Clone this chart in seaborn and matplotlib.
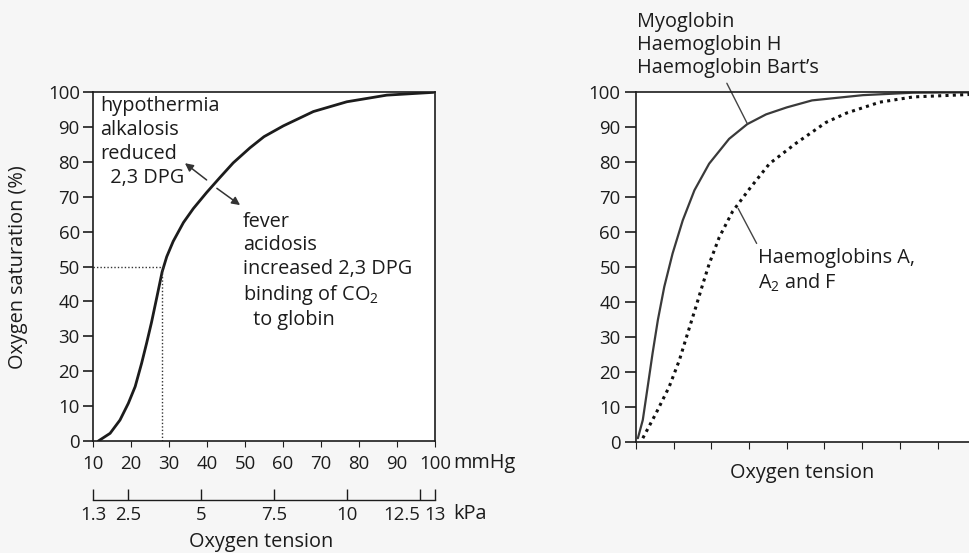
import matplotlib
matplotlib.use("Agg")
import matplotlib.pyplot as plt
import seaborn as sns

sns.set_theme(style="ticks")
plt.rcParams['font.family'] = ['Open Sans', 'DejaVu Sans']
plt.rcParams['mathtext.fontset'] = 'custom'
plt.rcParams['mathtext.rm'] = 'Open Sans'
plt.rcParams['mathtext.default'] = 'regular'

# left panel: dissociation curve (mmHg, % saturation)
curve_mmhg = [11.4, 14.5, 17.1, 19.3, 21.1, 22.8, 24.1, 25.4, 26.8, 28.2, 29.4,
              31.1, 33.8, 36.4, 39.9, 43.4, 46.9, 51.3, 55.0, 60.1, 68.0, 76.8, 87.3, 99.6]
curve_sat = [0.0, 2.2, 6.0, 10.8, 15.6, 22.3, 28.0, 34.0, 41.2, 48.5, 52.8,
             57.2, 62.6, 66.6, 71.2, 75.5, 79.7, 84.0, 87.2, 90.3, 94.4, 97.2, 99.1, 99.9]
p50_mmhg = 28.2
p50_sat = 50

mmhg_ticks = [10, 20, 30, 40, 50, 60, 70, 80, 90, 100]
kpa_ticks = [1.3, 2.5, 5, 7.5, 10, 12.5, 13]
kpa_labels = ["1.3", "2.5", "5", "7.5", "10", "12.5", "13"]
sat_ticks = [0, 10, 20, 30, 40, 50, 60, 70, 80, 90, 100]

# right panel: unscaled tension axis
myo_x = [0.05, 0.18, 0.31, 0.44, 0.58, 0.75, 0.97, 1.24, 1.55, 1.94, 2.47,
         2.95, 3.45, 4.0, 4.67, 6.02, 7.35, 8.86]
myo_y = [1.0, 6.2, 15.7, 25.3, 34.8, 44.3, 53.8, 63.3, 71.9, 79.5, 86.6,
         90.8, 93.6, 95.6, 97.6, 99.1, 99.8, 99.9]
hba_x = [0.18, 0.53, 0.88, 1.15, 1.37, 1.59, 1.77, 1.94, 2.21, 2.56, 3.01,
         3.54, 4.24, 5.04, 5.59, 6.47, 7.36, 8.24, 8.86]
hba_y = [1.0, 8.1, 15.7, 23.3, 31.0, 38.6, 45.0, 50.8, 58.5, 65.8, 72.3,
         79.5, 85.3, 91.3, 94.0, 97.1, 98.6, 99.0, 99.3]
tension_ticks = [0, 1, 2, 3, 4, 5, 6, 7, 8]

W, H = 970, 553
fs = 14.3
fs_tick = 13.4
ink = '#1c1c1c'

fig = plt.figure(figsize=(W / 100, H / 100), dpi=100)
fig.set_facecolor('#f6f6f6')


def px_axes(left, top, right, bottom):
    return fig.add_axes([left / W, (H - bottom) / H, (right - left) / W, (bottom - top) / H])


# ---- left panel ----
ax1 = px_axes(93, 92, 435, 441)
ax1.set_facecolor('white')
sns.lineplot(x=curve_mmhg, y=curve_sat, ax=ax1, color=ink, linewidth=2.0,
             estimator=None, sort=False)
ax1.plot([10, p50_mmhg + 0.4], [p50_sat, p50_sat], color='#333', lw=1, ls=(0, (1, 1.5)))
ax1.plot([p50_mmhg, p50_mmhg], [0, p50_sat], color='#333', lw=1, ls=(0, (1, 1.5)))
ax1.set_xlim(10, 100)
ax1.set_ylim(0, 100)
ax1.set_xticks(mmhg_ticks)
ax1.set_yticks(sat_ticks)
ax1.tick_params(axis='y', direction='out', length=7.5, width=1.2, pad=2, labelsize=fs_tick, colors=ink)
ax1.tick_params(axis='x', direction='out', length=4, width=0.8, pad=6, labelsize=fs_tick, colors=ink)
for s in ax1.spines.values():
    s.set_color(ink)
    s.set_linewidth(1.2)

sec = ax1.secondary_xaxis(-0.17, functions=(lambda m: m * 13 / 100, lambda k: k * 100 / 13))
sec.set_xticks(kpa_ticks)
sec.set_xticklabels(kpa_labels)
sec.tick_params(direction='in', length=8, width=1, pad=4, labelsize=fs_tick, colors=ink)
sec.spines['bottom'].set_color(ink)
sec.spines['bottom'].set_linewidth(1)
sec.get_xticklabels()[5].set_horizontalalignment('right')

ax1.text(1.053, -0.063, "mmHg", transform=ax1.transAxes, ha='left', va='center', fontsize=fs, color=ink)
ax1.text(1.053, -0.209, "kPa", transform=ax1.transAxes, ha='left', va='center', fontsize=fs, color=ink)
fig.text(261 / W, (H - 542) / H, "Oxygen tension", ha='center', va='center', fontsize=fs, color=ink)
fig.text(18 / W, (H - 267) / H, "Oxygen saturation (%)", rotation=90, ha='center', va='center',
         fontsize=fs, color=ink)

fig.text(100 / W, (H - 142) / H, "hypothermia\nalkalosis\nreduced\n  2,3 DPG", ha='left', va='center',
         fontsize=fs, color=ink, linespacing=1.27)
fig.text(243 / W, (H - 271) / H, "fever\nacidosis\nincreased 2,3 DPG\nbinding of CO$_2$\n  to globin",
         ha='left', va='center', fontsize=fs, color=ink, linespacing=1.24)
arrow = dict(arrowstyle='-|>', color='#333', lw=1.1, mutation_scale=12, shrinkA=0, shrinkB=0)
ax1.annotate('', xy=(34.2, 79.6), xytext=(39.9, 74.8), arrowprops=arrow)
ax1.annotate('', xy=(48.7, 67.6), xytext=(42.6, 72.4), arrowprops=arrow)

# ---- right panel ----
ax2 = px_axes(636, 92, 970, 441.7)
ax2.set_facecolor('white')
sns.lineplot(x=myo_x, y=myo_y, ax=ax2, color='#3a3a3a', linewidth=1.6, estimator=None, sort=False)
sns.lineplot(x=hba_x, y=hba_y, ax=ax2, color='#111', linewidth=2.2, linestyle=(0, (1, 1.4)),
             estimator=None, sort=False)
ax2.set_xlim(0, 8.86)
ax2.set_ylim(0, 100)
ax2.set_xticks(tension_ticks)
ax2.set_xticklabels([])
ax2.set_yticks(sat_ticks)
ax2.tick_params(axis='y', direction='out', length=8, width=1.2, pad=3, labelsize=fs_tick, colors=ink)
ax2.tick_params(axis='x', direction='out', length=5, width=0.8, colors=ink)
ax2.spines['right'].set_visible(False)
for s in ['left', 'top', 'bottom']:
    ax2.spines[s].set_color(ink)
    ax2.spines[s].set_linewidth(1.2)

ax2.plot([2.41, 2.95], [102.5, 91.0], color='#444', lw=1, clip_on=False)
ax2.plot([2.71, 3.2], [66.7, 56.7], color='#444', lw=1)
fig.text(637 / W, (H - 45) / H, "Myoglobin\nHaemoglobin H\nHaemoglobin Bart\u2019s", ha='left', va='center',
         fontsize=fs, color=ink, linespacing=1.18)
fig.text(758 / W, (H - 271) / H, "Haemoglobins A,\nA$_2$ and F", ha='left', va='center',
         fontsize=fs, color=ink, linespacing=1.22)
fig.text(802 / W, (H - 473) / H, "Oxygen tension", ha='center', va='center', fontsize=fs, color=ink)

fig.savefig("out.png", dpi=100, facecolor=fig.get_facecolor())
